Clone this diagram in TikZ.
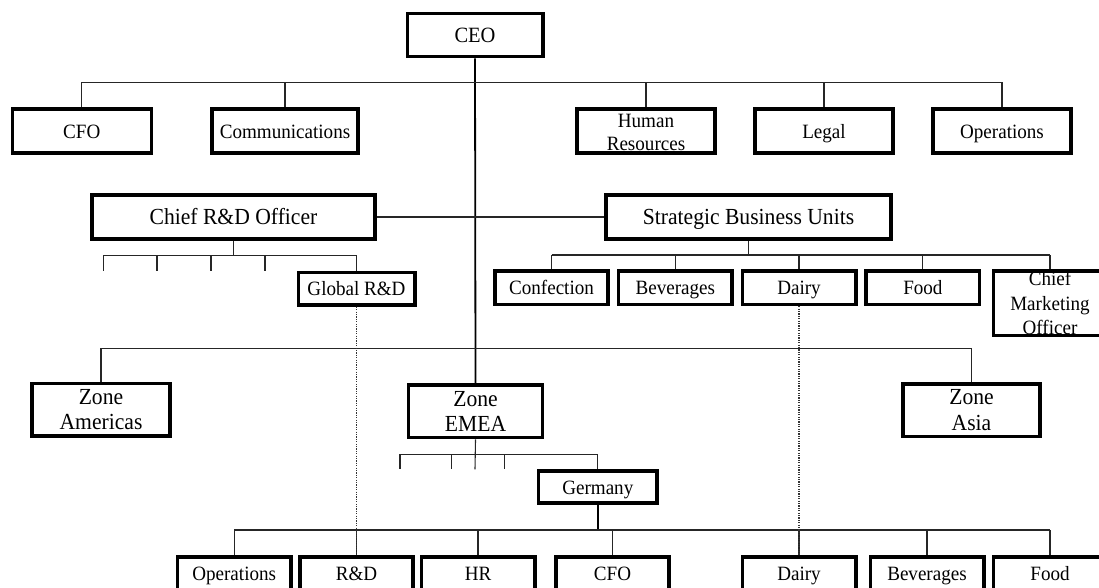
\documentclass[tikz,border=0pt]{standalone}
\usepackage{fontspec}
\setmainfont[FakeStretch=0.94]{Liberation Serif}
\begin{document}
\begin{tikzpicture}[x=1pt,y=-1pt,
  orgbox/.style={draw=black, line width=3.6pt, inner sep=0pt, align=center,
                 font=\fontsize{20.3}{23.5}\selectfont},
  oneline/.style={text height=14.5pt, text depth=0pt},
  bigtext/.style={font=\fontsize{23}{25.5}\selectfont},
  unitbox/.style={orgbox, oneline, minimum width=113.4pt, minimum height=33.4pt},
  topbox/.style={orgbox, minimum width=138.4pt, minimum height=44.4pt},
  zonebox/.style={orgbox, bigtext, minimum height=52.4pt},
  link/.style={draw=black!85, line width=1.1pt},
  trunk/.style={draw=black, line width=1.8pt},
  dotlink/.style={draw=black!80, line width=1.1pt, dash pattern=on 1.2pt off 1.2pt}]

\useasboundingbox (0,0) rectangle (1099,588);
\clip (0,0) rectangle (1099,588);

% ---- top management ----
\node[orgbox, oneline, minimum width=135.4pt, minimum height=43pt,
      font=\fontsize{21.8}{24}\selectfont] (ceo) at (475,35) {CEO};

\node[topbox, oneline, minimum width=139pt] (cfo)  at (81.8,131) {CFO};
\node[topbox, oneline, minimum width=146.4pt] (comm) at (285,131) {Communications};
\node[topbox] (hr)   at (646,131) {\rule{0pt}{16pt}Human\\Resources};
\node[topbox, oneline] (legal) at (824,131) {Legal};
\node[topbox, oneline] (ops)  at (1002,131) {Operations};

\node[orgbox, bigtext, oneline, minimum width=283.4pt, minimum height=43.8pt] (crd) at (233.5,217) {Chief R\&D Officer};
\node[orgbox, bigtext, oneline, minimum width=285.4pt, minimum height=44pt] (sbu) at (748.5,217) {Strategic Business Units};

% ---- R&D and business units ----
\node[orgbox, oneline, minimum width=116.4pt, minimum height=32.4pt] (grd) at (356.5,288.7) {Global R\&D};

\node[unitbox] (conf)  at (551.5,287.6) {Confection};
\node[unitbox] (bev)   at (675.3,287.6) {Beverages};
\node[unitbox] (dairy) at (799,287.6) {Dairy};
\node[unitbox] (food)  at (922.9,287.6) {Food};
\node[orgbox, minimum width=113.4pt, minimum height=64.4pt,
      font=\fontsize{20.3}{24.5}\selectfont] (cmo) at (1050,303.3) {Chief\\Marketing\\Officer};

% ---- zones ----
\node[zonebox, minimum width=138.4pt] (amer) at (101,409.7) {Zone\\Americas};
\node[zonebox, minimum width=134.3pt] (emea) at (475.5,411.3) {Zone\\EMEA};
\node[zonebox, minimum width=137.4pt] (asia) at (971.5,410.3) {Zone\\Asia};

\node[orgbox, oneline, minimum width=118.5pt, minimum height=32pt] (germ) at (597.8,487.2) {Germany};

% ---- country functions ----
\node[unitbox] (bops)   at (234.2,573.5) {Operations};
\node[unitbox] (brd)    at (356.5,573.5) {R\&D};
\node[unitbox] (bhr)    at (478,573.5)   {HR};
\node[unitbox] (bcfo)   at (612.5,573.5) {CFO};
\node[unitbox] (bdairy) at (799,573.5)   {Dairy};
\node[unitbox] (bbev)   at (927,573.5)   {Beverages};
\node[unitbox] (bfood)  at (1050,573.5)  {Food};

% ---- bus levels ----
\coordinate (topbus)  at (475,82.3);
\coordinate (rdbus)   at (233.5,255.3);
\coordinate (sbubus)  at (748.5,255);
\coordinate (zonebus) at (475,348.3);
\coordinate (emeabus) at (475,454.3);
\coordinate (botbus)  at (598,530);

% free stubs below the R&D and EMEA buses
\coordinate (r1) at (103.5,270.7);
\coordinate (r2) at (157,270.7);
\coordinate (r3) at (211,270.7);
\coordinate (r4) at (265,270.7);
\coordinate (e1) at (400,469.3);
\coordinate (e2) at (451.7,469.3);
\coordinate (e3) at (475,469.3);
\coordinate (e4) at (504.3,469.3);

% CEO trunk and staff functions
\draw[trunk] (ceo.south) -- (emea.north);
\draw[link] (cfo.north |- topbus) -- (ops.north |- topbus);
\foreach \n in {cfo,comm,hr,legal,ops}
  \draw[link] (\n.north) -- (\n.north |- topbus);

% R&D officer to business units
\draw[link] (crd.east) -- (sbu.west);

% R&D branch
\draw[link] (crd.south) -- (rdbus);
\draw[link] (r1 |- rdbus) -- (grd.north |- rdbus) -- (grd.north);
\foreach \s in {r1,r2,r3,r4}
  \draw[link] (\s |- rdbus) -- (\s);

% business unit branch
\draw[link] (sbu.south) -- (sbubus);
\draw[link] (conf.north |- sbubus) -- (cmo.north |- sbubus);
\foreach \n in {conf,bev,dairy,food,cmo}
  \draw[link] (\n.north) -- (\n.north |- sbubus);

% zones
\draw[link] (amer.north |- zonebus) -- (asia.north |- zonebus);
\draw[link] (amer.north) -- (amer.north |- zonebus);
\draw[link] (asia.north) -- (asia.north |- zonebus);

% EMEA branch
\draw[link] (emea.south) -- (e3);
\draw[link] (e1 |- emeabus) -- (germ.north |- emeabus) -- (germ.north);
\foreach \s in {e1,e2,e4}
  \draw[link] (\s |- emeabus) -- (\s);

% Germany branch
\draw[trunk, line width=1.5pt] (germ.south) -- (germ.south |- botbus);
\draw[link] (bops.north |- botbus) -- (bfood.north |- botbus);
\foreach \n in {bops,brd,bhr,bcfo,bdairy,bbev,bfood}
  \draw[link] (\n.north) -- (\n.north |- botbus);

% functional (dotted) reporting lines
\draw[dotlink] (grd.south) -- (brd.north);
\draw[dotlink] (dairy.south) -- (bdairy.north);

\end{tikzpicture}
\end{document}
